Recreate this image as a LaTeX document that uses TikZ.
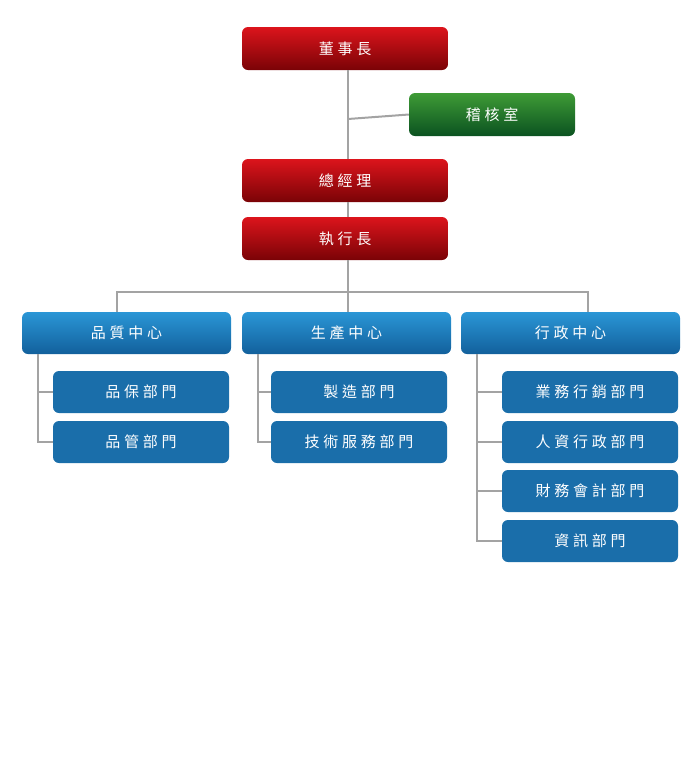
\documentclass[tikz,border=0pt]{standalone}
\usepackage{fontspec}
\newfontfamily\cjk[LetterSpace=25]{Noto Sans CJK TC}
\definecolor{redtop}{HTML}{DC141C}
\definecolor{redbot}{HTML}{7A0306}
\definecolor{greentop}{HTML}{3E9B36}
\definecolor{greenbot}{HTML}{0B5220}
\definecolor{bluetop}{HTML}{2A96D6}
\definecolor{bluebot}{HTML}{12609C}
\definecolor{deptblue}{HTML}{1A6EAA}
\definecolor{linegray}{HTML}{A3A3A3}
\tikzset{
  box/.style={rounded corners=6pt, minimum height=43pt, text=white,
    font=\cjk\fontsize{15}{15}\selectfont, inner sep=0pt},
  redbox/.style={box, minimum width=206pt, top color=redtop, bottom color=redbot},
  greenbox/.style={box, minimum width=166pt, top color=greentop, bottom color=greenbot},
  centerbox/.style={box, minimum height=42pt, top color=bluetop, bottom color=bluebot},
  deptbox/.style={box, minimum width=176pt, minimum height=42pt, fill=deptblue},
  link/.style={draw=linegray, line width=2pt}
}
\begin{document}
\begin{tikzpicture}[x=1pt, y=-1pt]
\useasboundingbox (0,0) rectangle (700,780);
% top level
\node[redbox] (chair) at (345,48.5) {董事長};
\node[greenbox] (audit) at (492,114.5) {稽核室};
\node[redbox] (gm) at (345,180.5) {總經理};
\node[redbox] (ceo) at (345,238.5) {執行長};
% centers
\node[centerbox, minimum width=209pt] (qc) at (126.5,333) {品質中心};
\node[centerbox, minimum width=209pt] (pc) at (346.5,333) {生產中心};
\node[centerbox, minimum width=219pt] (ac) at (570.5,333) {行政中心};
% departments
\node[deptbox] (qa) at (141,392) {品保部門};
\node[deptbox] (qm) at (141,442) {品管部門};
\node[deptbox] (mf) at (359,392) {製造部門};
\node[deptbox] (ts) at (359,442) {技術服務部門};
\node[deptbox] (sm) at (590,392) {業務行銷部門};
\node[deptbox] (hr) at (590,442) {人資行政部門};
\node[deptbox] (fa) at (590,491) {財務會計部門};
\node[deptbox] (it) at (590,541) {資訊部門};
% connectors
\coordinate (tap) at (348,119);
\coordinate (bus) at (348,292);
\draw[link] (chair.south -| tap) -- (gm.north -| tap);
\draw[link] (tap) -- (audit.west);
\draw[link] (gm.south -| tap) -- (ceo.north -| tap);
\draw[link] (ceo.south -| tap) -- (bus);
\draw[link] (qc.north -| 117,0) |- (bus) -| (ac.north -| 588,0);
\draw[link] (bus) -- (pc.north -| bus);
\draw[link] (qc.south -| 38,0) |- (qm.west);
\draw[link] (qa.west -| 38,0) -- (qa.west);
\draw[link] (pc.south -| 258,0) |- (ts.west);
\draw[link] (mf.west -| 258,0) -- (mf.west);
\draw[link] (ac.south -| 477,0) |- (it.west);
\foreach \d in {sm,hr,fa}
  \draw[link] (\d.west -| 477,0) -- (\d.west);
\end{tikzpicture}
\end{document}
